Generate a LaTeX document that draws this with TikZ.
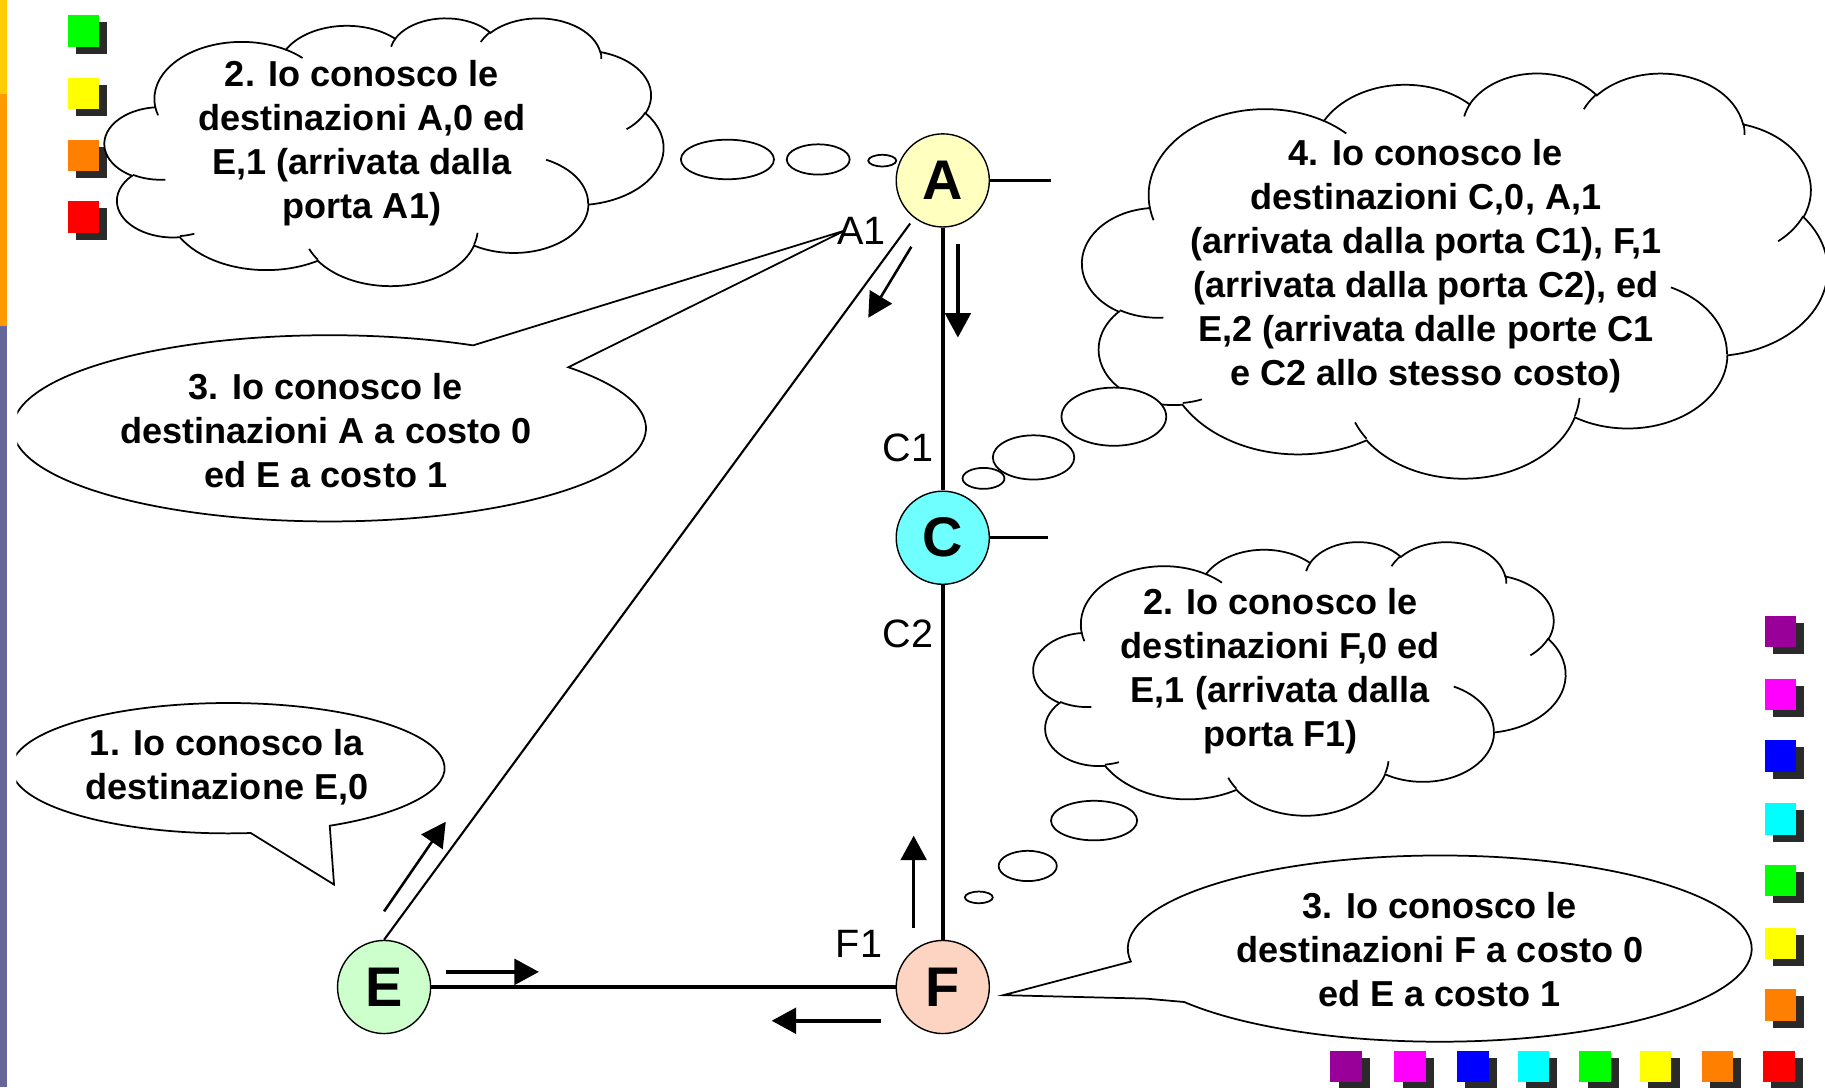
\documentclass[tikz,border=0pt]{standalone}
\usepackage{fontspec}
\setmainfont{Liberation Sans}
\usetikzlibrary{arrows.meta,calc}

\definecolor{stripY}{HTML}{FFCC00}
\definecolor{stripO}{HTML}{FF9900}
\definecolor{stripP}{HTML}{666699}
\definecolor{nodeA}{HTML}{FFFFC0}
\definecolor{nodeC}{HTML}{70FFFF}
\definecolor{nodeE}{HTML}{CCFFCC}
\definecolor{nodeF}{HTML}{FDD3C2}
\definecolor{sqPurple}{HTML}{990099}
\definecolor{sqMagenta}{HTML}{FF00FF}
\definecolor{sqBlue}{HTML}{0000FF}
\definecolor{sqCyan}{HTML}{00FFFF}
\definecolor{sqGreen}{HTML}{00FF00}
\definecolor{sqYellow}{HTML}{FFFF00}
\definecolor{sqOrange}{HTML}{FF8000}
\definecolor{sqRed}{HTML}{FF0000}
\definecolor{shadowgray}{HTML}{2A2A2A}

\tikzset{
  router/.style={circle, draw=black, line width=0.6pt, minimum size=40pt, inner sep=0pt,
    font=\bfseries\fontsize{24}{24}\selectfont},
  link/.style={line width=1.5pt},
  thinlink/.style={line width=0.9pt},
  flow/.style={line width=1.5pt, -{Triangle[length=10.5pt,width=11pt]}},
  port/.style={font=\fontsize{17}{17}\selectfont, inner sep=0pt},
  msg/.style={font=\bfseries\fontsize{15.5}{18.9}\selectfont, align=center, inner sep=0pt},
  bubble/.style={draw=black, line width=0.75pt},
  cloudline/.style={draw=black, line width=0.75pt},
  puff/.style={draw=black, line width=0.75pt, fill=white},
}

% coloured square with a dark drop shadow
\newcommand{\colsq}[3]{%
  \fill[shadowgray] (#1+7,#2+6) rectangle ++(27,27);
  \fill[#3] (#1,#2) rectangle ++(27,27);
}

% elliptic arc given by radii, start direction and sweep (degrees, clockwise)
\newcommand{\ooarc}[4]{%
  \pgfextra{%
    \pgfmathsetmacro\ooTs{atan2((#1)*sin(#3),(#2)*cos(#3))}%
    \pgfmathsetmacro\ooTe{atan2((#1)*sin(#3+#4),(#2)*cos(#3+#4))}%
    \pgfmathsetmacro\ooD{\ooTe-\ooTs}%
    \pgfmathsetmacro\ooD{(#4>0)?(\ooD+360*(\ooD<0)):(\ooD-360*(\ooD>0))}%
  }%
  arc[start angle=\ooTs, delta angle=\ooD, x radius=#1, y radius=#2]%
}

% thought cloud filling the box with top-left corner (#2,#3), size #4 x #5
\newcommand{\thoughtcloud}[5]{%
\begin{scope}[shift={(#2,#3)}, xscale=#4/432, yscale=#5/432]
  \filldraw[cloudline, fill=white] (39,143.7)
    \ooarc{67.53}{91.90}{-190.4875}{123.7805}
    \ooarc{53.33}{72.67}{-144.1024}{89.9452}
    \ooarc{43.65}{59.45}{-145.8079}{99.7230}
    \ooarc{48.57}{65.95}{-130.9861}{117.2417}
    \ooarc{53.33}{72.73}{-78.7089}{109.0269}
    \ooarc{67.75}{92.20}{-46.2673}{130.2690}
    \ooarc{57.85}{78.67}{0.6250}{114.0333}
    \ooarc{67.52}{92.15}{22.4516}{115.1726}
    \ooarc{77.20}{105.43}{66.2426}{75.7110}
    \ooarc{43.60}{59.18}{-274.9421}{146.7356}
    \ooarc{43.45}{59.45}{-246.8285}{152.5189}
    -- cycle;
  \draw[cloudline]
    (46.93,261.77) \ooarc{43.45}{59.45}{86.7420}{26.4295}
    (69.28,348.99) \ooarc{43.60}{59.18}{73.6105}{11.4475}
    (164.78,390.90) \ooarc{67.52}{92.15}{137.6242}{14.0811}
    (288.27,347.51) \ooarc{67.52}{92.15}{6.4533}{15.9984}
    (341.29,229.54) \ooarc{57.85}{78.67}{-70.2924}{70.9174}
    (417.98,153.54) \ooarc{53.33}{72.73}{30.3180}{27.7515}
    (383.24,54.26) \ooarc{48.57}{65.95}{-13.7443}{14.8600}
    (290.78,39.52) \ooarc{48.57}{65.95}{-149.1815}{18.1976}
    (221.41,47.20) \ooarc{43.65}{59.45}{-163.4943}{17.6941}
    (140.00,51.92) \ooarc{67.53}{91.90}{-66.7070}{12.3194}
    (41.27,157.89) \ooarc{67.53}{91.90}{157.6544}{11.8582};
  \coordinate (#1) at (216,216);
\end{scope}}

\begin{document}
\begin{tikzpicture}[x=0.5pt,y=-0.5pt]
\useasboundingbox (0,0) rectangle (1568,934);
\fill[white] (0,0) rectangle (1568,934);

% left colour strip
\fill[stripY] (0,0) rectangle (6,81);
\fill[stripO] (0,81) rectangle (6,280);
\fill[stripP] (0,280) rectangle (6,934);

% decorative squares, top left
\colsq{58}{13}{sqGreen}
\colsq{58}{67}{sqYellow}
\colsq{58}{120}{sqOrange}
\colsq{58}{173}{sqRed}

% decorative squares, right column and bottom row
\colsq{1516}{529}{sqPurple}
\colsq{1516}{583}{sqMagenta}
\colsq{1516}{636}{sqBlue}
\colsq{1516}{690}{sqCyan}
\colsq{1516}{743}{sqGreen}
\colsq{1516}{797}{sqYellow}
\colsq{1516}{850}{sqOrange}
\colsq{1143}{903}{sqPurple}
\colsq{1198}{903}{sqMagenta}
\colsq{1252}{903}{sqBlue}
\colsq{1304}{903}{sqCyan}
\colsq{1357}{903}{sqGreen}
\colsq{1409}{903}{sqYellow}
\colsq{1462}{903}{sqOrange}
\colsq{1515}{903}{sqRed}

% routers
\node[router, fill=nodeA] (A) at (810,155) {A};
\node[router, fill=nodeC] (C) at (810,462) {C};
\node[router, fill=nodeE] (E) at (330,848) {E};
\node[router, fill=nodeF] (F) at (810,848) {F};

% links
\coordinate (Astub) at (903,155);
\coordinate (Cstub) at (900,462);
\coordinate (Adiag) at (782,192);
\draw[link] (A.east) -- (Astub);
\draw[link] (C.east) -- (Cstub);
\draw[link] (A.south) -- (C.north);
\draw[link] (C.south) -- (F.north);
\draw[link] (E.east) -- (F.west);
\draw[thinlink] (E.north) -- (Adiag);

% announcement arrows
\coordinate (d1s) at (783,212); \coordinate (d1e) at (746,273);
\coordinate (d2s) at (823,210); \coordinate (d2e) at (823,290);
\coordinate (d3s) at (330,783); \coordinate (d3e) at (383,706);
\coordinate (d4s) at (383,835); \coordinate (d4e) at (463,835);
\coordinate (d5s) at (757,877); \coordinate (d5e) at (663,877);
\coordinate (d6s) at (785,797); \coordinate (d6e) at (785,718);
\draw[flow, line width=1.1pt] (d1s) -- (d1e);
\draw[flow] (d2s) -- (d2e);
\draw[flow, line width=1.1pt] (d3s) -- (d3e);
\draw[flow] (d4s) -- (d4e);
\draw[flow] (d5s) -- (d5e);
\draw[flow] (d6s) -- (d6e);

% speech bubble of A (left)
\begin{scope}
  \clip (15,0) rectangle (1568,934);
  \coordinate (tipA) at (726,198);
  \draw[bubble] ($(283,368)+(-41:272 and 80)$)
    arc[start angle=-41, end angle=297, x radius=272, y radius=80] -- (tipA) -- cycle;
\end{scope}
\node[msg] (msgA3) at (280,370) {3. Io conosco le\\destinazioni A a costo 0\\ed E a costo 1};

% speech bubble of E
\begin{scope}
  \clip (14,0) rectangle (1568,934);
  \coordinate (tipE) at (287,760);
  \draw[bubble] ($(196,660)+(84:186 and 56)$)
    arc[start angle=84, end angle=422, x radius=186, y radius=56] -- (tipE) -- cycle;
\end{scope}
\node[msg] (msgE1) at (195,659) {1. Io conosco la\\destinazione E,0};

% speech bubble of F
\coordinate (tipF) at (862,855);
\coordinate (kinkF) at (985,858);
\draw[bubble] ($(1237,815)+(172:268 and 80)$)
  arc[start angle=172, end angle=505, x radius=268, y radius=80] -- (kinkF) -- (tipF) -- cycle;
\node[msg] (msgF3) at (1237,816) {3. Io conosco le\\destinazioni F a costo 0\\ed E a costo 1};

% thought cloud of A
\thoughtcloud{cloudA}{90}{15}{480}{230}
\node[msg] (msgA2) at (311,123) {2. Io conosco le\\destinazioni A,0 ed\\E,1 (arrivata dalla\\porta A1)};
\draw[puff] (625,137) ellipse[x radius=40, y radius=17];
\draw[puff] (703,137) ellipse[x radius=27, y radius=13];
\draw[puff] (758,138) ellipse[x radius=12, y radius=5];

% thought cloud of C
\thoughtcloud{cloudC}{930}{62}{640}{348}
\node[msg] (msgC4) at (1225,229) {4. Io conosco le\\destinazioni C,0, A,1\\(arrivata dalla porta C1), F,1\\(arrivata dalla porta C2), ed\\E,2 (arrivata dalle porte C1\\e C2 allo stesso costo)};
\draw[puff] (957,358) ellipse[x radius=45, y radius=25];
\draw[puff] (888,393) ellipse[x radius=35, y radius=19];
\draw[puff] (845,411) ellipse[x radius=18, y radius=9];

% thought cloud of F
\thoughtcloud{cloudF}{888}{465}{457}{235}
\node[msg] (msgF2) at (1100,577) {2. Io conosco le\\destinazioni F,0 ed\\E,1 (arrivata dalla\\porta F1)};
\draw[puff] (940,705) ellipse[x radius=37, y radius=17];
\draw[puff] (883,744) ellipse[x radius=25, y radius=13];
\draw[puff] (841,771) ellipse[x radius=12, y radius=5];

% port labels
\node[port] (pA1) at (740,198) {A1};
\node[port] (pC1) at (780,385) {C1};
\node[port] (pC2) at (780,545) {C2};
\node[port] (pF1) at (738,811) {F1};
\end{tikzpicture}
\end{document}
